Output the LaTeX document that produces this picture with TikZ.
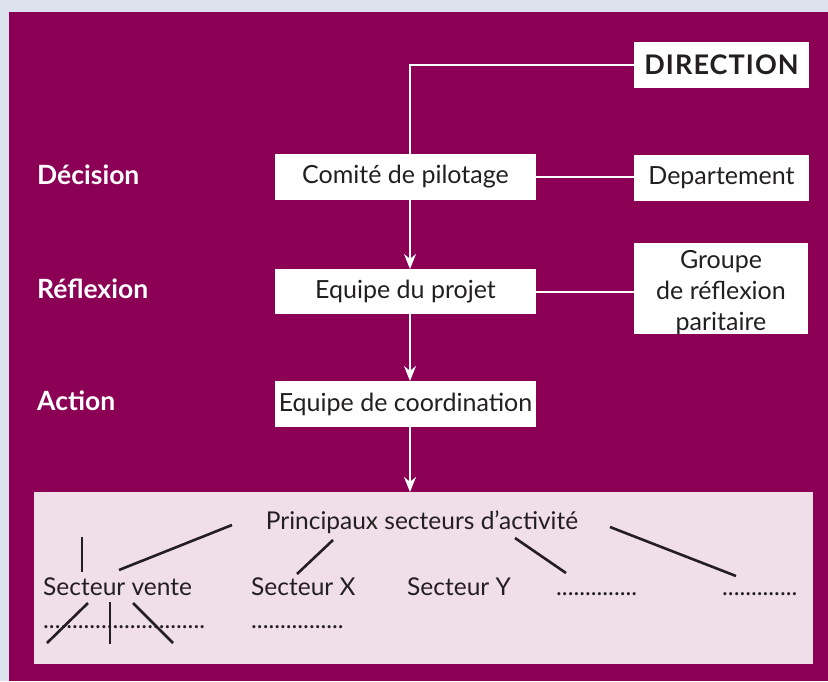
\documentclass[tikz,border=0pt]{standalone}
\usepackage{fontspec}
\setmainfont{Lato}
\usetikzlibrary{arrows.meta}
\definecolor{frameblue}{HTML}{DCE3EF}
\definecolor{plum}{HTML}{8B0055}
\definecolor{paleplum}{HTML}{F0DEE8}
\definecolor{ink}{HTML}{231F20}
\tikzset{
  whitebox/.style={fill=white, text=ink, inner sep=0pt, align=center,
    font=\fontsize{25}{30}\selectfont},
  level/.style={text=white, anchor=west, inner sep=0pt,
    font=\fontsize{26.5}{30}\selectfont\bfseries},
  link/.style={draw=white, line width=2pt},
  flow/.style={link, -{Stealth[length=15pt,width=12pt]}},
  sector/.style={text=ink, inner sep=0pt, anchor=base west,
    font=\fontsize{24.5}{28}\selectfont},
  stroke/.style={draw=ink, line width=2.6pt}
}
\begin{document}
\begin{tikzpicture}[x=1pt, y=-1pt]
  % frame and panel
  \fill[frameblue] (0,0) rectangle (828,681);
  \fill[plum] (9,12) rectangle (828,681);
  \useasboundingbox (0,0) rectangle (828,681);

  % level labels
  \node[level] (decision) at (37,175) {Décision};
  \node[level] (reflexion) at (37,289) {Réflexion};
  \node[level] (action) at (37,401) {Action};

  % hierarchy
  \coordinate (spine) at (410,65);
  \draw[link] (634,65) -- (spine) -- (410,154);
  \node[whitebox, minimum width=175pt, minimum height=46pt,
    font=\fontsize{27}{30}\selectfont\bfseries\addfontfeature{LetterSpace=4}]
    (direction) at (721.5,65) {DIRECTION};
  \node[whitebox, minimum width=261pt, minimum height=46pt] (comite) at (405.5,177) {Comité de pilotage};
  \node[whitebox, minimum width=175pt, minimum height=46pt] (dept) at (721.5,178) {Departement};
  \node[whitebox, minimum width=261pt, minimum height=45pt] (projet) at (405.5,291.5) {Equipe du projet};
  \node[whitebox, minimum width=174pt, minimum height=91pt] (groupe) at (721,288.5) {};
  \node[whitebox, fill=none, font=\fontsize{25}{31}\selectfont]
    (groupetext) at ([yshift=-4pt]groupe.center) {Groupe\\de réflexion\\paritaire};
  \node[whitebox, minimum width=261pt, minimum height=46pt] (coord) at (405.5,404) {Equipe de coordination};

  % activity panel
  \node[fill=paleplum, inner sep=0pt, minimum width=779pt, minimum height=172pt, anchor=north west]
    (secteurs) at (34,492) {};

  % connectors
  \draw[link] (comite.east |- 0,177) -- (dept.west |- 0,177);
  \draw[link] (projet.east |- 0,292) -- (groupe.west |- 0,292);
  \draw[flow] (410,200) -- (410,269);
  \draw[flow] (410,314) -- (410,381);
  \draw[flow] (410,427) -- (secteurs.north -| 410,0);

  % sectors
  \node[sector, anchor=center] (principaux) at (422,522) {Principaux secteurs d’activité};
  \node[sector] (vente) at (43,595) {Secteur vente};
  \node[sector] (sx) at (251,595) {Secteur X};
  \node[sector] (sy) at (407,595) {Secteur Y};
  \node[sector] (s3) at (556,595) {..............};
  \node[sector] (s4) at (722,595) {.............};
  \node[sector] (venteplus) at (43,628) {............................};
  \node[sector] (sxplus) at (251,628) {................};

  \draw[stroke] (232,525) -- (119,570);
  \draw[stroke] (82,537) -- (82,572);
  \draw[stroke] (333,540) -- (297,574);
  \draw[stroke] (515,538) -- (566,573);
  \draw[stroke] (610,527) -- (736,576);
  \draw[stroke] (88,603) -- (47,643);
  \draw[stroke] (110,602) -- (110,644);
  \draw[stroke] (133,603) -- (173,643);
\end{tikzpicture}
\end{document}
